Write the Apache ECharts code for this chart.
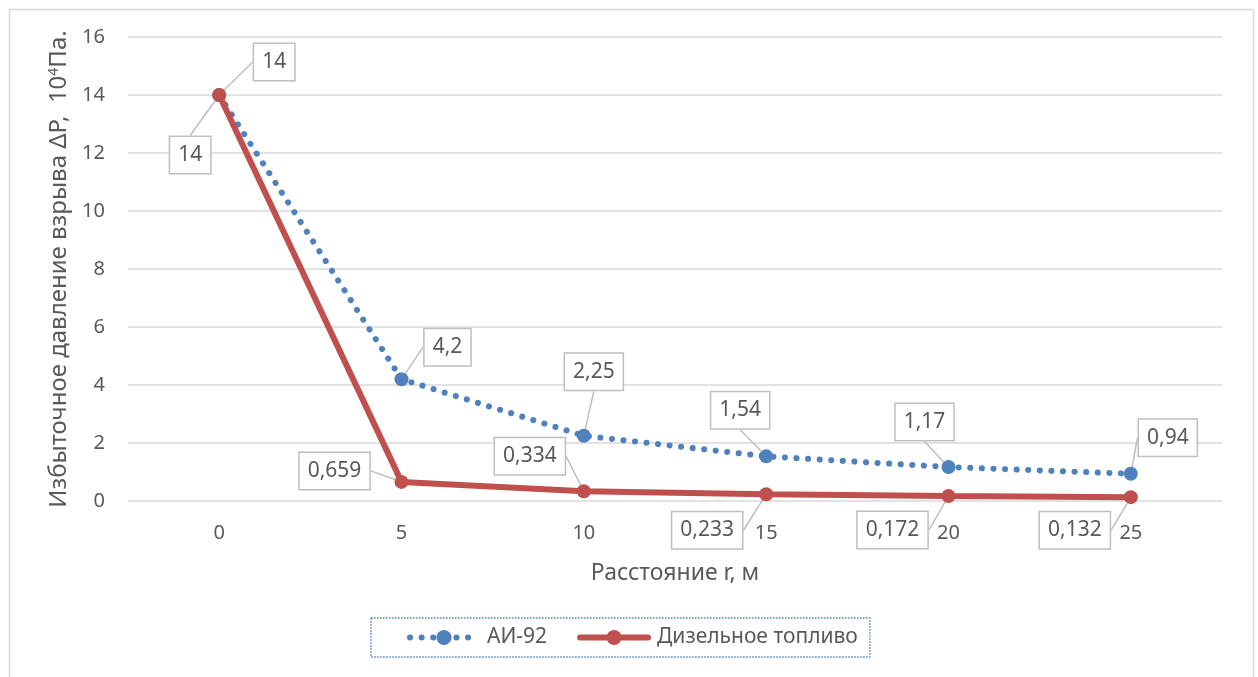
<!DOCTYPE html>
<html>
<head>
<meta charset="utf-8">
<script src="https://cdn.jsdelivr.net/npm/echarts@6/dist/echarts.min.js"></script>
<style>
  html, body { margin: 0; padding: 0; background: #ffffff; }
  #chart { width: 1258px; height: 677px; }
</style>
</head>
<body>
<div id="chart"></div>
<script>
// Distance from the source, m
const distances = ['0', '5', '10', '15', '20', '25'];
// Overpressure of the blast, 10^4 Pa
const ai92 = [14, 4.2, 2.25, 1.54, 1.17, 0.94];
const diesel = [14, 0.659, 0.334, 0.233, 0.172, 0.132];
// Value axis range
const yMin = 0, yMax = 16, yStep = 2;

// Callout placement: offset of each label box centre from its marker
const ai92Callouts = [[55, -33], [46, -32], [10, -64], [-26, -46], [-24, -45], [37, -36]];
const dieselCallouts = [[-29, 60], [-67, -11], [-54, -35], [-59, 36], [-56, 34], [-56, 33]];

const FONT = 'Noto Sans';
const TEXT = '#595959';
const BLUE = '#4f81bd';
const RED = '#c0504d';

const decimalComma = v => String(v).replace('.', ',');

function calloutLabel() {
  return {
    show: true,
    position: 'inside',
    formatter: p => decimalComma(p.value),
    fontFamily: FONT,
    fontSize: 21,
    color: TEXT,
    backgroundColor: '#ffffff',
    borderColor: '#bfbfbf',
    borderWidth: 1.5,
    padding: [5, 8, 4, 8],
    lineHeight: 27
  };
}

const chart = echarts.init(document.getElementById('chart'), null, { renderer: 'canvas' });

chart.setOption({
  animation: false,
  backgroundColor: '#ffffff',
  textStyle: { fontFamily: FONT },
  graphic: [{
    type: 'rect',
    left: 7, top: 7,
    shape: { width: 1244, height: 690 },
    style: { fill: 'none', stroke: '#d9d9d9', lineWidth: 1.5 },
    z: -10
  }],
  grid: { left: 128, right: 36, top: 37, bottom: 176 },
  legend: {
    left: 371, top: 618,
    padding: [9, 12, 9, 36],
    itemGap: 30,
    itemWidth: 68,
    itemHeight: 19,
    borderColor: BLUE,
    borderWidth: 1.5,
    borderType: 'dotted',
    lineStyle: { width: 'inherit' },
    textStyle: { fontFamily: FONT, fontSize: 21, color: TEXT, padding: [0, 0, 0, 4] },
    data: ['АИ-92', 'Дизельное топливо']
  },
  xAxis: {
    type: 'category',
    data: distances,
    boundaryGap: true,
    axisLine: { show: false },
    axisTick: { show: false },
    axisLabel: { fontFamily: FONT, fontSize: 20, color: TEXT, margin: 22 },
    name: 'Расстояние r, м',
    nameLocation: 'middle',
    nameGap: 61,
    nameTextStyle: { fontFamily: FONT, fontSize: 23, color: TEXT }
  },
  yAxis: {
    type: 'value',
    min: yMin, max: yMax, interval: yStep,
    axisLine: { show: false },
    axisTick: { show: false },
    splitLine: { lineStyle: { color: '#d9d9d9', width: 1.5 } },
    axisLabel: { fontFamily: FONT, fontSize: 20, color: TEXT, margin: 23 },
    name: 'Избыточное давление взрыва ΔP,  10{sup|4}Па.',
    nameLocation: 'middle',
    nameGap: 54,
    nameTextStyle: {
      fontFamily: FONT, fontSize: 24, color: TEXT,
      rich: {
        sup: { fontFamily: FONT, fontSize: 14, color: TEXT, verticalAlign: 'top', padding: [0, 0, 10, 0] }
      }
    }
  },
  series: [
    {
      name: 'АИ-92',
      type: 'line',
      data: ai92,
      symbol: 'circle',
      symbolSize: 14,
      itemStyle: { color: BLUE },
      lineStyle: { color: BLUE, width: 6, type: [0.1, 11.5], cap: 'round' },
      label: calloutLabel(),
      labelLine: { show: true, lineStyle: { color: '#bfbfbf', width: 1.5 } },
      labelLayout: p => ({ dx: ai92Callouts[p.dataIndex][0], dy: ai92Callouts[p.dataIndex][1] }),
      z: 2
    },
    {
      name: 'Дизельное топливо',
      type: 'line',
      data: diesel,
      symbol: 'circle',
      symbolSize: 14,
      itemStyle: { color: RED },
      lineStyle: { color: RED, width: 6, cap: 'round' },
      label: calloutLabel(),
      labelLine: { show: true, lineStyle: { color: '#bfbfbf', width: 1.5 } },
      labelLayout: p => ({ dx: dieselCallouts[p.dataIndex][0], dy: dieselCallouts[p.dataIndex][1] }),
      z: 3
    }
  ]
});
</script>
</body>
</html>
